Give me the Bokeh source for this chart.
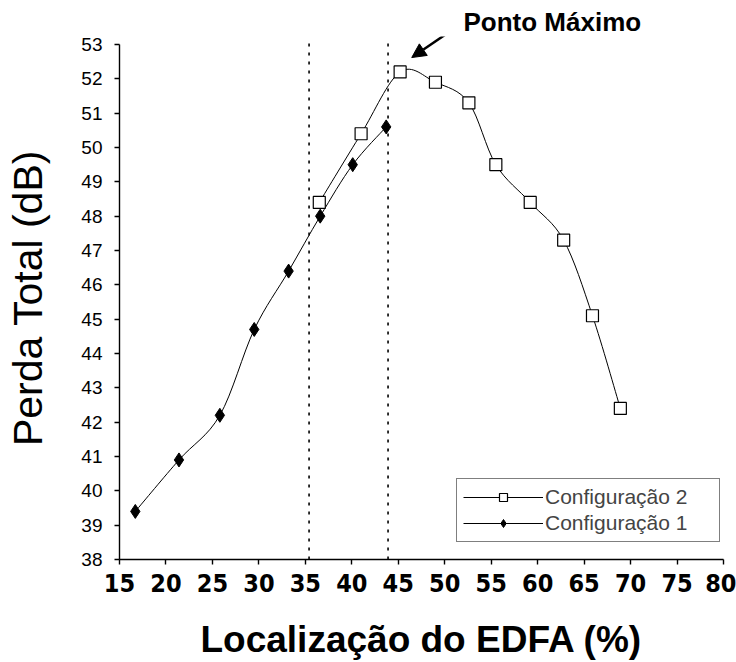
from bokeh.plotting import figure
from bokeh.models import (Range1d, Legend, LegendItem, Arrow, NormalHead,
                          FixedTicker)
from bokeh.embed import file_html
from bokeh.resources import INLINE

# ---- data ----
x_cfg1 = [16.7, 21.4, 25.8, 29.5, 33.2, 36.6, 40.1, 43.7]
y_cfg1 = [39.4, 40.9, 42.2, 44.7, 46.4, 48.0, 49.5, 50.6]
x_cfg2 = [36.5, 41.0, 45.2, 49.0, 52.6, 55.5, 59.2, 62.8, 65.9, 68.9]
y_cfg2 = [48.4, 50.4, 52.2, 51.9, 51.3, 49.5, 48.4, 47.3, 45.1, 42.4]
v_lines = [35.4, 43.9]
x_ticks = [15, 20, 25, 30, 35, 40, 45, 50, 55, 60, 65, 70, 75, 80]
y_ticks = [38, 39, 40, 41, 42, 43, 44, 45, 46, 47, 48, 49, 50, 51, 52, 53]
name_cfg1 = "Configuração 1"
name_cfg2 = "Configuração 2"
x_title = "Localização do EDFA (%)"
y_title = "Perda Total (dB)"
note_text = "Ponto Máximo"

Y_MIN, Y_MAX = 38, 53


def smooth_segments(xs, ys):
    """Cubic Bezier control points (Catmull-Rom style) through the data points."""
    n = len(xs)
    out = dict(x0=[], y0=[], x1=[], y1=[], cx0=[], cy0=[], cx1=[], cy1=[])
    for i in range(n - 1):
        ip = max(i - 1, 0)
        inn = min(i + 2, n - 1)
        out["x0"].append(xs[i]); out["y0"].append(ys[i])
        out["x1"].append(xs[i + 1]); out["y1"].append(ys[i + 1])
        out["cx0"].append(xs[i] + (xs[i + 1] - xs[ip]) / 6.0)
        out["cy0"].append(ys[i] + (ys[i + 1] - ys[ip]) / 6.0)
        out["cx1"].append(xs[i + 1] - (xs[inn] - xs[i]) / 6.0)
        out["cy1"].append(ys[i + 1] - (ys[inn] - ys[i]) / 6.0)
    return out


# frame: x 15..80 -> px 119..723 ; y 38..53 -> px 559..44 ; frame top at px 36
p = figure(width=736, height=662, output_backend="svg", toolbar_location=None,
           x_range=Range1d(15, 80), y_range=Range1d(Y_MIN, 53.233),
           min_border_left=119, min_border_right=13,
           min_border_top=36, min_border_bottom=103)
p.background_fill_color = "white"
p.border_fill_color = "white"
p.outline_line_color = None
p.grid.visible = False

# "Ponto Máximo" note as the figure title, positioned over the peak
p.title.text = note_text
p.title.align = "left"
p.title.offset = 344
p.title.standoff = 0
p.title.text_font = "Liberation Sans"
p.title.text_font_style = "bold"
p.title.text_font_size = "26px"
p.title.text_color = "black"

# dotted vertical markers
p.segment(x0=v_lines, y0=[Y_MIN] * len(v_lines), x1=v_lines,
          y1=[Y_MAX + 0.17] * len(v_lines),
          line_color="black", line_width=1.6, line_dash="3 6")

s2 = smooth_segments(x_cfg2, y_cfg2)
s1 = smooth_segments(x_cfg1, y_cfg1)
b2 = p.bezier(source=s2, x0="x0", y0="y0", x1="x1", y1="y1", cx0="cx0", cy0="cy0",
              cx1="cx1", cy1="cy1", line_color="black", line_width=1)
b1 = p.bezier(source=s1, x0="x0", y0="y0", x1="x1", y1="y1", cx0="cx0", cy0="cy0",
              cx1="cx1", cy1="cy1", line_color="black", line_width=1)
m2 = p.scatter(x_cfg2, y_cfg2, marker="square", size=12, fill_color="white",
               line_color="black", line_width=1.2)
m1 = p.scatter(x_cfg1, y_cfg1, marker="diamond", size=14, fill_color="black",
               line_color="black")

legend = Legend(items=[LegendItem(label=name_cfg2, renderers=[b2, m2]),
                       LegendItem(label=name_cfg1, renderers=[b1, m1])],
                location=(337, 17), padding=6, spacing=2,
                glyph_width=80, glyph_height=20, label_standoff=2,
                label_width=168, label_height=20,
                label_text_font="Liberation Sans", label_text_font_size="21px",
                border_line_color="black", border_line_width=1.5,
                background_fill_color="white", background_fill_alpha=1)
p.add_layout(legend, "center")

# arrow pointing at the maximum
p.add_layout(Arrow(end=NormalHead(size=14, fill_color="black", line_color="black"),
                   x_start=50.4, y_start=53.35, x_end=46.45, y_end=52.62,
                   line_color="black", line_width=2.5))

# axes
p.xaxis.ticker = FixedTicker(ticks=x_ticks)
p.yaxis.ticker = FixedTicker(ticks=y_ticks)
p.yaxis.bounds = (Y_MIN, Y_MAX)
for ax in (p.xaxis[0], p.yaxis[0]):
    ax.axis_line_color = "black"
    ax.axis_line_width = 1.4
    ax.major_tick_line_color = "black"
    ax.major_tick_line_width = 1.4
    ax.major_tick_in = 0
    ax.major_tick_out = 5
    ax.minor_tick_line_color = None
    ax.major_label_text_color = "black"
    ax.axis_label_text_color = "black"

p.xaxis.major_label_text_font = "DejaVu Sans Condensed"
p.xaxis.major_label_text_font_style = "bold"
p.xaxis.major_label_text_font_size = "25px"
p.xaxis.major_label_standoff = 9
p.xaxis.axis_label = x_title
p.xaxis.axis_label_text_font = "Liberation Sans"
p.xaxis.axis_label_text_font_style = "bold"
p.xaxis.axis_label_text_font_size = "37px"
p.xaxis.axis_label_standoff = 24

p.yaxis.major_label_text_font = "Liberation Sans"
p.yaxis.major_label_text_font_size = "19px"
p.yaxis.major_label_standoff = 12
p.yaxis.axis_label = y_title
p.yaxis.axis_label_text_font = "Liberation Sans"
p.yaxis.axis_label_text_font_style = "normal"
p.yaxis.axis_label_text_font_size = "41px"
p.yaxis.axis_label_standoff = 27

open("out.html", "w").write(file_html(p, INLINE))
